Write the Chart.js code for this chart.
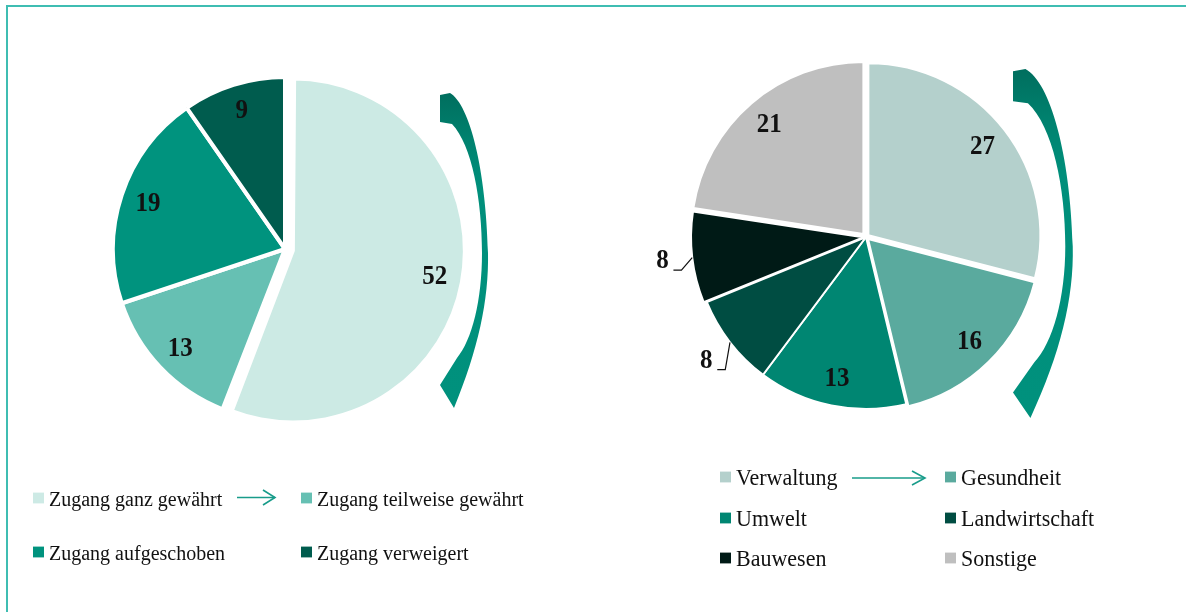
<!DOCTYPE html>
<html>
<head>
<meta charset="utf-8">
<script src="https://cdn.jsdelivr.net/npm/chart.js@4.4.1/dist/chart.umd.min.js"></script>
<style>
  body { margin: 0; background: #fff; width: 1186px; height: 612px; overflow: hidden; position: relative; }
  #frame { position: absolute; left: 6px; top: 5px; width: 1300px; height: 700px;
           border-top: 2px solid #3fbdb2; border-left: 2px solid #3fbdb2; }
  canvas { position: absolute; top: 0; }
  .item { position: absolute; display: flex; align-items: center; font-family: "Liberation Serif", "Times New Roman", serif;
          color: #111; white-space: nowrap; transform: scaleY(1.08); transform-origin: left center; }
  .item span.box { display: inline-block; width: 11px; height: 10px; margin-right: 5px; }
  svg.arrow { position: absolute; left: 0; top: 0; }
</style>
</head>
<body>
<div id="frame"></div>
<canvas id="leftPie" width="593" height="612" style="left:0"></canvas>
<canvas id="rightPie" width="593" height="612" style="left:593px"></canvas>
<div id="legends"></div>
<svg class="arrow" width="1186" height="612">
  <g stroke="#189c8a" stroke-width="1.6" fill="none">
    <line x1="237" y1="497.5" x2="275" y2="497.5"/>
    <polyline points="263,490 275,497.5 263,505"/>
    <line x1="852" y1="478" x2="925" y2="478"/>
    <polyline points="912,471 925,478 912,485"/>
  </g>
</svg>
<script>
// data
const leftLabels = ['Zugang ganz gewährt', 'Zugang teilweise gewährt', 'Zugang aufgeschoben', 'Zugang verweigert'];
const leftValues = [52, 13, 19, 9];
const rightLabels = ['Verwaltung', 'Gesundheit', 'Umwelt', 'Landwirtschaft', 'Bauwesen', 'Sonstige'];
const rightValues = [27, 16, 13, 8, 8, 21];

// styles
const leftColors = ['#cceae4', '#66c0b3', '#00937e', '#005c4e'];
const rightColors = ['#b4d0cc', '#5aaa9e', '#008672', '#004d42', '#001a16', '#bfbfbf'];
const leftOffsets = [32, 0, 0, 0];
const rightOffsets = [12, 12, 0, 0, 12, 16];

// value labels inside the slices (small ones outside with a leader line)
const valueLabels = {
  id: 'valueLabels',
  afterDatasetsUpdate(chart, args, opts) {
    // keep exploded slices at the same radius as the rest
    const meta = chart.getDatasetMeta(0);
    meta.data.forEach((arc, i) => {
      const off = (opts.offsets[i] || 0) / 4;
      const fix = 1 - Math.sin(Math.min(Math.PI, arc.circumference));
      arc.outerRadius -= off * fix;
    });
  },
  afterDatasetsDraw(chart, args, opts) {
    const ctx = chart.ctx;
    const meta = chart.getDatasetMeta(0);
    const values = chart.data.datasets[0].data;
    const r = meta.controller.outerRadius;
    ctx.save();
    ctx.strokeStyle = '#111';
    ctx.lineWidth = 1.2;
    const text = (v, x, y) => {
      ctx.save();
      ctx.translate(x, y);
      ctx.scale(1, 1.12);
      ctx.font = 'bold 25px "Liberation Serif"';
      ctx.fillStyle = '#111';
      ctx.textAlign = 'center';
      ctx.textBaseline = 'middle';
      ctx.fillText(v, 0, 0);
      ctx.restore();
    };
    meta.data.forEach((arc, i) => {
      const mid = (arc.startAngle + arc.endAngle) / 2;
      const t = (opts.offsets[i] || 0) / 4;
      const cos = Math.cos(mid), sin = Math.sin(mid);
      if (values[i] < opts.outsideBelow) {
        const ex = arc.x + cos * (r + t), ey = arc.y + sin * (r + t);
        const tx = arc.x + cos * (r + t + 30), ty = arc.y + sin * (r + t + 30);
        ctx.beginPath();
        ctx.moveTo(ex, ey);
        ctx.lineTo(tx + 19, ty + 9);
        ctx.lineTo(tx + 11, ty + 9);
        ctx.stroke();
        text(values[i], tx, ty);
      } else {
        const d = t + r * 0.84;
        text(values[i], arc.x + cos * d, arc.y + sin * d);
      }
    });
    ctx.restore();
  }
};

// curved arrow next to each pie (decoration)
const curvedArrow = {
  id: 'curvedArrow',
  afterDraw(chart, args, opts) {
    const ctx = chart.ctx;
    const b = opts.box;
    // shape traced in a 49 x 315 box
    const n = (x, y) => [b.x + (x - 440) / 49 * b.w, b.y + (y - 93) / 315 * b.h];
    ctx.save();
    ctx.beginPath();
    ctx.moveTo(...n(440, 95));
    ctx.lineTo(...n(450, 93));
    ctx.bezierCurveTo(...n(470, 105), ...n(486, 170), ...n(488, 253));
    ctx.bezierCurveTo(...n(489, 300), ...n(478, 350), ...n(454, 408));
    ctx.lineTo(...n(440, 385));
    ctx.lineTo(...n(457, 358));
    ctx.bezierCurveTo(...n(472, 340), ...n(482, 300), ...n(482, 253));
    ctx.bezierCurveTo(...n(482, 200), ...n(472, 145), ...n(452, 124));
    ctx.lineTo(...n(440, 122));
    ctx.closePath();
    const g = ctx.createLinearGradient(0, b.y, 0, b.y + b.h);
    g.addColorStop(0, '#006e5e');
    g.addColorStop(0.15, '#00826f');
    g.addColorStop(0.3, '#008f7b');
    g.addColorStop(1, '#00917d');
    ctx.fillStyle = g;
    ctx.fill();
    ctx.restore();
  }
};

function pieConfig(labels, values, colors, offsets, border, padding, outsideBelow, box) {
  return {
    type: 'pie',
    data: {
      labels: labels,
      datasets: [{
        data: values,
        backgroundColor: colors,
        borderColor: '#ffffff',
        borderWidth: border,
        offset: offsets,
        radius: 172
      }]
    },
    options: {
      responsive: false,
      animation: false,
      radius: 172,
      layout: { padding: padding },
      plugins: {
        legend: { display: false },
        tooltip: { enabled: false },
        valueLabels: { offsets: offsets, outsideBelow: outsideBelow },
        curvedArrow: { box: box }
      }
    },
    plugins: [valueLabels, curvedArrow]
  };
}

new Chart(document.getElementById('leftPie'),
  pieConfig(leftLabels, leftValues, leftColors, leftOffsets, 4,
    { left: 0, right: 23, top: 0, bottom: 114 }, 0, { x: 440, y: 93, w: 49, h: 315 }));

new Chart(document.getElementById('rightPie'),
  pieConfig(rightLabels, rightValues, rightColors, rightOffsets, 2,
    { left: 0, right: 47, top: 0, bottom: 138 }, 10, { x: 420, y: 69, w: 61, h: 349 }));

// legends
function buildLegend(labels, colors, cols, rows, size) {
  const host = document.getElementById('legends');
  labels.forEach((label, i) => {
    const el = document.createElement('div');
    el.className = 'item';
    el.style.left = cols[i % cols.length] + 'px';
    el.style.top = rows[Math.floor(i / cols.length)] + 'px';
    el.style.fontSize = size + 'px';
    el.style.lineHeight = size + 'px';
    el.innerHTML = '<span class="box" style="background:' + colors[i] + '"></span>' + label;
    host.appendChild(el);
  });
}
buildLegend(leftLabels, ['#cdeae5', '#66c0b3', '#00937e', '#005c4e'], [33, 301], [488, 542], 20);
buildLegend(rightLabels, rightColors, [720, 945], [466, 507, 547], 22);
</script>
</body>
</html>
